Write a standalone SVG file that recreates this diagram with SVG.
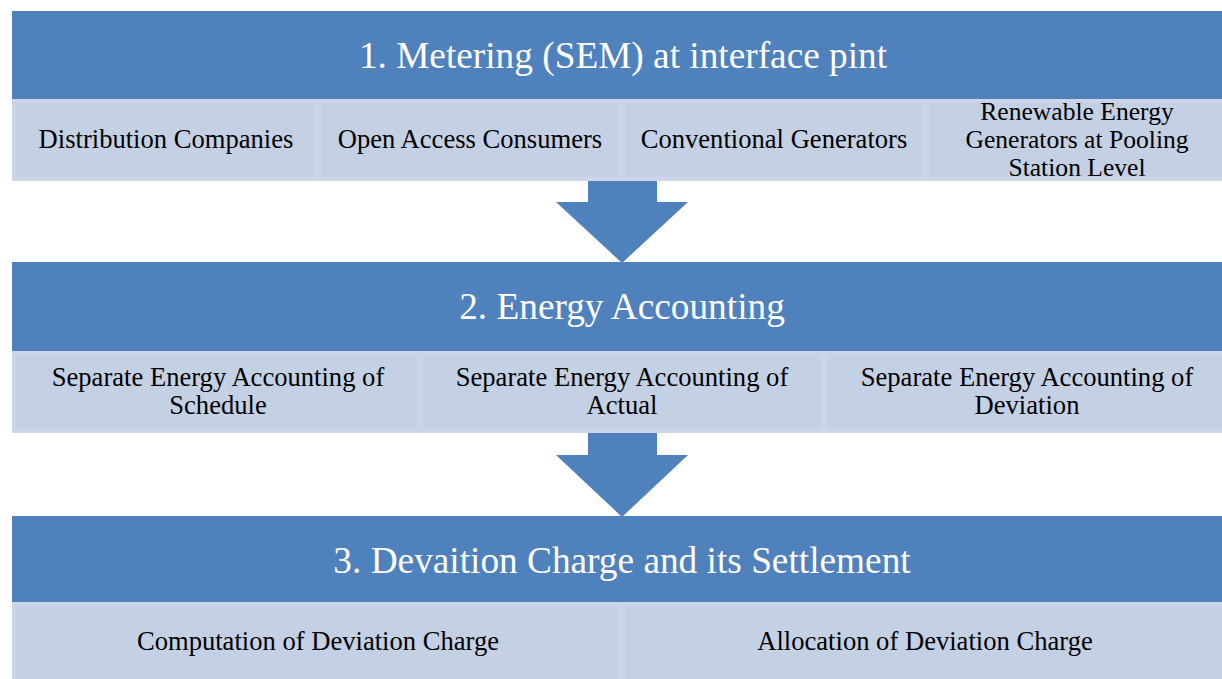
<svg xmlns="http://www.w3.org/2000/svg" width="1222" height="679" viewBox="0 0 1222 679">
  <style>
    .banner { fill: #4f81bd; }
    .row { fill: #cdd6e8; }
    .cell { fill: #c4d0e4; stroke: #cbd5e7; stroke-width: 3; }
    .title { font-family: "Liberation Serif", "Times New Roman", serif; font-size: 37.3px; fill: #ffffff; text-anchor: middle; }
    .label { font-family: "Liberation Serif", "Times New Roman", serif; font-size: 26.6px; fill: #000000; text-anchor: middle; }
    .tight { font-size: 25.6px; }
    .arrow { fill: #4f81bd; }
  </style>
  <rect width="1222" height="679" fill="#ffffff"/>

  <!-- Step 1 -->
  <g id="step1">
    <rect class="banner" x="12" y="11" width="1220" height="88"/>
    <text class="title" x="623" y="68">1. Metering (SEM) at interface pint</text>
    <rect class="row" x="12" y="99" width="1220" height="82"/>
  </g>
  <g id="step1-distribution">
    <rect class="cell" x="14" y="101" width="302" height="77"/>
    <text class="label" x="166" y="148">Distribution Companies</text>
  </g>
  <g id="step1-open-access">
    <rect class="cell" x="320" y="101" width="300" height="77"/>
    <text class="label" x="470" y="148">Open Access Consumers</text>
  </g>
  <g id="step1-conventional">
    <rect class="cell" x="624" y="101" width="300" height="77"/>
    <text class="label" x="774" y="148">Conventional Generators</text>
  </g>
  <g id="step1-renewable">
    <rect class="cell" x="928" y="101" width="300" height="77"/>
    <text class="label tight" x="1077" y="120">Renewable Energy</text>
    <text class="label tight" x="1077" y="148">Generators at Pooling</text>
    <text class="label tight" x="1077" y="176">Station Level</text>
  </g>

  <!-- Step 2 -->
  <g id="step2">
    <rect class="banner" x="12" y="262" width="1220" height="89"/>
    <text class="title" x="622" y="319">2. Energy Accounting</text>
    <rect class="row" x="12" y="351" width="1220" height="82"/>
  </g>
  <g id="step2-schedule">
    <rect class="cell" x="14" y="353" width="404" height="77"/>
    <text class="label" x="218" y="386">Separate Energy Accounting of</text>
    <text class="label" x="218" y="414">Schedule</text>
  </g>
  <g id="step2-actual">
    <rect class="cell" x="422" y="353" width="400" height="77"/>
    <text class="label" x="622" y="386">Separate Energy Accounting of</text>
    <text class="label" x="622" y="414">Actual</text>
  </g>
  <g id="step2-deviation">
    <rect class="cell" x="826" y="353" width="402" height="77"/>
    <text class="label" x="1027" y="386">Separate Energy Accounting of</text>
    <text class="label" x="1027" y="414">Deviation</text>
  </g>

  <!-- Step 3 -->
  <g id="step3">
    <rect class="banner" x="12" y="516" width="1220" height="86"/>
    <text class="title" x="622" y="573">3. Devaition Charge and its Settlement</text>
    <rect class="row" x="12" y="602" width="1220" height="80"/>
  </g>
  <g id="step3-computation">
    <rect class="cell" x="14" y="604" width="606" height="80"/>
    <text class="label" x="318" y="650">Computation of Deviation Charge</text>
  </g>
  <g id="step3-allocation">
    <rect class="cell" x="624" y="604" width="604" height="80"/>
    <text class="label" x="925" y="650">Allocation of Deviation Charge</text>
  </g>

  <!-- Connectors: block arrows between steps -->
  <g id="connectors">
    <polygon class="arrow" points="588,181 657,181 657,202 688,202 622,263 556,202 588,202"/>
    <polygon class="arrow" points="588,433 657,433 657,455 688,455 622,517 556,455 588,455"/>
  </g>
</svg>
